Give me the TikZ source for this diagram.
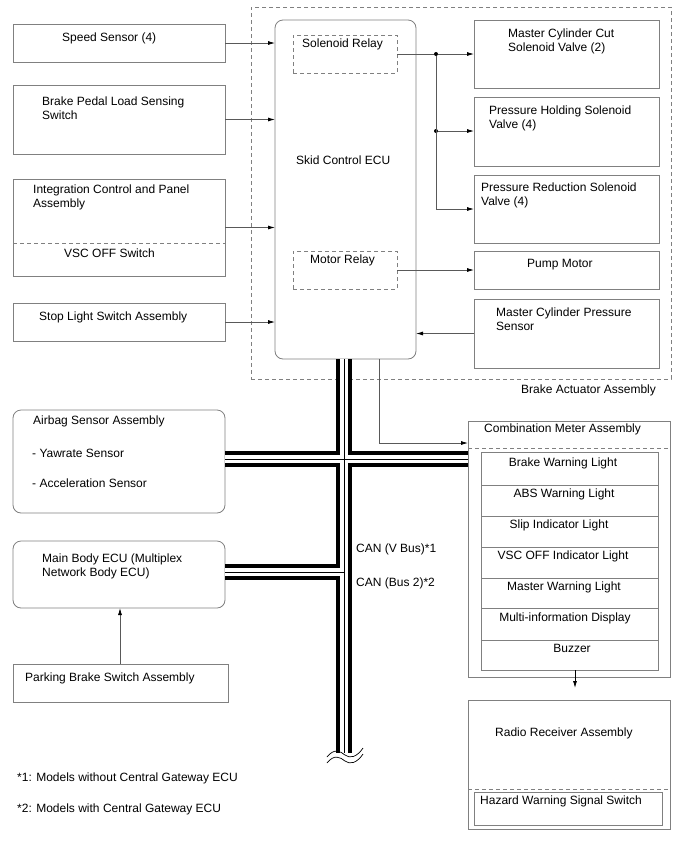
\documentclass[tikz,border=0pt]{standalone}
\usepackage{fontspec}
\setmainfont{Liberation Sans}
\usetikzlibrary{arrows.meta,calc}
\newcommand\mkbox[6][]{\node[box,#1,minimum width=#4pt-#2pt,minimum height=#5pt-#3pt] (#6) at ({(#2+#4)/2},{(#3+#5)/2}) {};}
\newcommand\tx[5][txt]{\node[#1] (#2) at (#3,#4+4.3) {#5};}
\begin{document}
\begin{tikzpicture}[x=1pt,y=-1pt,
  box/.style={draw=black!50, line width=0.8pt, inner sep=0pt, outer sep=0pt, rectangle},
  rbox/.style={rounded corners=8pt},
  dbox/.style={dash pattern=on 4pt off 3pt},
  txt/.style={anchor=base west, inner sep=0pt, font=\fontsize{12}{14}\selectfont},
  ctxt/.style={anchor=base, inner sep=0pt, font=\fontsize{12}{14}\selectfont},
  conn/.style={draw=black!65, line width=0.8pt},
  arr/.style={conn, -{Latex[length=7pt,width=4pt,color=black]}},
  dashline/.style={draw=black!50, line width=0.8pt, dash pattern=on 4pt off 3pt},
  jdot/.style={circle, fill=black, inner sep=0pt, minimum size=4pt}
]
\useasboundingbox[fill=white] (0,0) rectangle (688,852);

% Brake actuator assembly boundary
\mkbox[dbox]{251}{7}{671}{379}{baa}
\tx{baat}{521}{389}{Brake Actuator Assembly}

% left input boxes
\mkbox{13}{24}{225}{62}{spd}
\tx{spdt}{62}{37}{Speed Sensor (4)}
\mkbox{13}{85}{225}{154}{bpl}
\tx{bplt1}{42}{101}{Brake Pedal Load Sensing}
\tx{bplt2}{42}{115}{Switch}
\mkbox{13}{179}{225}{276}{icp}
\draw[dashline] (icp.west |- 0,243) -- (icp.east |- 0,243);
\tx{icpt1}{33}{189}{Integration Control and Panel}
\tx{icpt2}{33}{203}{Assembly}
\tx{icpt3}{64}{253}{VSC OFF Switch}
\mkbox{13}{303}{225}{341}{stp}
\tx{stpt}{39}{316}{Stop Light Switch Assembly}

% Skid control ECU
\mkbox[rbox]{275}{20}{416}{359}{ecu}
\tx{ecut}{296}{160}{Skid Control ECU}
\mkbox[dbox]{293}{35}{397}{73}{sr}
\tx{srt}{302}{43}{Solenoid Relay}
\mkbox[dbox]{293}{251}{397}{289}{mr}
\tx{mrt}{310}{259}{Motor Relay}

% actuator outputs
\mkbox{474}{20}{659}{88}{mcc}
\tx{mcct1}{508}{33}{Master Cylinder Cut}
\tx{mcct2}{508}{47}{Solenoid Valve (2)}
\mkbox{474}{97}{659}{166}{phv}
\tx{phvt1}{489}{110}{Pressure Holding Solenoid}
\tx{phvt2}{489}{124}{Valve (4)}
\mkbox{474}{175}{659}{243}{prv}
\tx{prvt1}{481}{187}{Pressure Reduction Solenoid}
\tx{prvt2}{481}{201}{Valve (4)}
\mkbox{474}{251}{659}{289}{pm}
\tx{pmt}{527}{263}{Pump Motor}
\mkbox{474}{299}{659}{368}{mcp}
\tx{mcpt1}{496}{312}{Master Cylinder Pressure}
\tx{mcpt2}{496}{326}{Sensor}

% connectors into ECU
\draw[arr] (spd.east) -- (ecu.west |- spd.east);
\draw[arr] (bpl.east) -- (ecu.west |- bpl.east);
\draw[arr] (icp.east) -- (ecu.west |- icp.east);
\draw[arr] (stp.east) -- (ecu.west |- stp.east);
\node[jdot] (j1) at (436,54) {};
\node[jdot] (j2) at (436,131) {};
\draw[conn] (sr.east) -- (j1);
\draw[arr] (j1) -- (mcc.west |- j1);
\draw[arr] (j2) -- (phv.west |- j2);
\draw[arr] (j1) |- (prv.west);
\draw[arr] (mr.east) -- (pm.west |- mr.east);
\draw[arr] (mcp.west) -- (ecu.east |- mcp.west);

% left lower boxes
\mkbox[rbox]{13}{410}{225}{513}{ab}
\tx{abt1}{33}{420}{Airbag Sensor Assembly}
\tx{abt2}{32}{453}{- Yawrate Sensor}
\tx{abt3}{32}{483}{- Acceleration Sensor}
\mkbox[rbox]{13}{541}{225}{608}{mb}
\tx{mbt1}{42}{558}{Main Body ECU (Multiplex}
\tx{mbt2}{42}{572}{Network Body ECU)}
\mkbox{13}{664}{228}{702}{pb}
\tx{pbt}{25}{677}{Parking Brake Switch Assembly}
\draw[arr] (pb.north -| 120,0) -- (mb.south -| 120,0);

% combination meter
\mkbox{468}{421}{670}{677}{cm}
\draw[dashline] (cm.west |- 0,448) -- (cm.east |- 0,448);
\tx{cmt}{484}{428}{Combination Meter Assembly}
\mkbox{481}{452}{658}{670}{cmi}
\foreach \yy in {485,516,547,578,608,640} {\draw[draw=black!50, line width=0.8pt] (cmi.west |- 0,\yy) -- (cmi.east |- 0,\yy);}
\tx[ctxt]{l1}{563}{462}{Brake Warning Light}
\tx[ctxt]{l2}{564}{493}{ABS Warning Light}
\tx[ctxt]{l3}{559}{524}{Slip Indicator Light}
\tx[ctxt]{l4}{563}{555}{VSC OFF Indicator Light}
\tx[ctxt]{l5}{564}{586}{Master Warning Light}
\tx[ctxt]{l6}{565}{617}{Multi-information Display}
\tx[ctxt]{l7}{572}{648}{Buzzer}

% ECU to meter
\coordinate (cmin) at (468,443);
\draw[arr] (ecu.south -| 379,0) |- (cmin);

% buzzer arrow
\coordinate (bz) at (575,688);
\draw[arr, draw=black] (cmi.south -| bz) -- (bz);

% radio receiver
\mkbox{468}{700}{670}{829}{rr}
\draw[dashline] (rr.west |- 0,789) -- (rr.east |- 0,789);
\tx{rrt}{495}{732}{Radio Receiver Assembly}
\mkbox{474}{792}{662}{825}{hz}
\tx{hzt}{480}{800}{Hazard Warning Signal Switch}

% CAN bus
\coordinate (bt) at (344,359);
\coordinate (bb) at (344,753);
\coordinate (h1) at (344,459);
\coordinate (h2) at (344,572);
\foreach \w/\c in {16pt/black, 8pt/white, 0.9pt/black}{
  \draw[line width=\w, draw=\c] (bt) -- (bb) (ab.east |- h1) -- (cm.west |- h1) (mb.east |- h2) -- (h2);
}
\draw[line width=0.7pt] (327,757) .. controls (334,748) and (340,751) .. (345,755) .. controls (350,759) and (357,757) .. (363,748);
\draw[line width=0.7pt] (327,763) .. controls (334,754) and (340,757) .. (345,761) .. controls (350,765) and (357,763) .. (363,754);
\tx{can1}{356}{548}{CAN (V Bus)*1}
\tx{can2}{356}{582}{CAN (Bus 2)*2}

% footnotes
\tx{fn1}{17}{777}{*1: Models without Central Gateway ECU}
\tx{fn2}{17}{808}{*2: Models with Central Gateway ECU}
\end{tikzpicture}
\end{document}
